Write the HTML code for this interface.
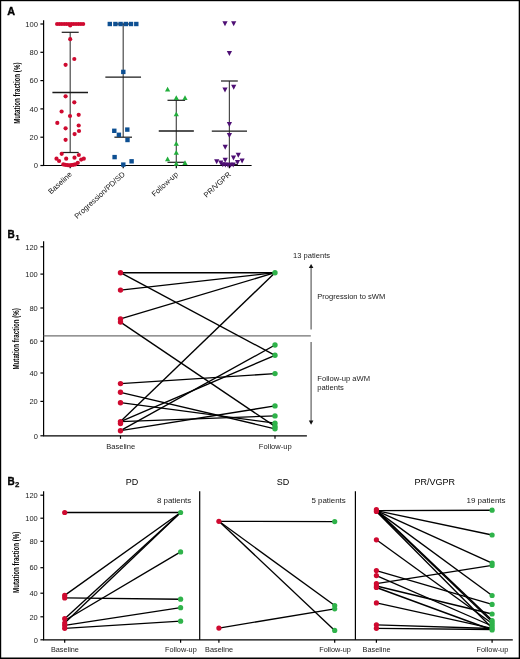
<!DOCTYPE html>
<html><head><meta charset="utf-8"><style>
html,body{margin:0;padding:0;background:#fff;}
body{width:520px;height:659px;overflow:hidden;position:relative;}
svg{position:absolute;left:0;top:0;display:block;will-change:transform;font-family:"Liberation Sans",sans-serif;}
</style></head><body>
<svg width="520" height="659" viewBox="0 0 520 659">
<rect x="0" y="0" width="520" height="659" fill="#fff"/>
<text x="7.3" y="15.2" font-size="10.8" font-weight="bold" fill="#000" stroke="#000" stroke-width="0.35">A</text>
<line x1="43.6" y1="20.2" x2="43.6" y2="165.5" stroke="#000" stroke-width="1.2"/>
<line x1="43" y1="165.5" x2="251.6" y2="165.5" stroke="#000" stroke-width="1.2"/>
<line x1="40.4" y1="165.5" x2="43.6" y2="165.5" stroke="#000" stroke-width="1.2"/>
<text x="37.9" y="168.2" font-size="7.6" text-anchor="end" font-weight="normal" fill="#1a1a1a" >0</text>
<line x1="40.4" y1="137.2" x2="43.6" y2="137.2" stroke="#000" stroke-width="1.2"/>
<text x="37.9" y="139.9" font-size="7.6" text-anchor="end" font-weight="normal" fill="#1a1a1a" >20</text>
<line x1="40.4" y1="108.9" x2="43.6" y2="108.9" stroke="#000" stroke-width="1.2"/>
<text x="37.9" y="111.6" font-size="7.6" text-anchor="end" font-weight="normal" fill="#1a1a1a" >40</text>
<line x1="40.4" y1="80.6" x2="43.6" y2="80.6" stroke="#000" stroke-width="1.2"/>
<text x="37.9" y="83.3" font-size="7.6" text-anchor="end" font-weight="normal" fill="#1a1a1a" >60</text>
<line x1="40.4" y1="52.3" x2="43.6" y2="52.3" stroke="#000" stroke-width="1.2"/>
<text x="37.9" y="55" font-size="7.6" text-anchor="end" font-weight="normal" fill="#1a1a1a" >80</text>
<line x1="40.4" y1="24" x2="43.6" y2="24" stroke="#000" stroke-width="1.2"/>
<text x="37.9" y="26.7" font-size="7.6" text-anchor="end" font-weight="normal" fill="#1a1a1a" >100</text>
<line x1="70.2" y1="165.5" x2="70.2" y2="168.2" stroke="#000" stroke-width="1.2"/>
<line x1="123.2" y1="165.5" x2="123.2" y2="168.2" stroke="#000" stroke-width="1.2"/>
<line x1="176.3" y1="165.5" x2="176.3" y2="168.2" stroke="#000" stroke-width="1.2"/>
<line x1="229.4" y1="165.5" x2="229.4" y2="168.2" stroke="#000" stroke-width="1.2"/>
<text transform="translate(19.6,93.2) rotate(-90) scale(0.67,1)" font-size="9.2" font-weight="bold" text-anchor="middle" fill="#000">Mutation fraction (%)</text>
<text transform="translate(72.4,175) rotate(-42.5)" font-size="7.55" text-anchor="end" fill="#111">Baseline</text>
<text transform="translate(125.4,175) rotate(-42.5)" font-size="7.55" text-anchor="end" fill="#111">Progression/PD/SD</text>
<text transform="translate(178.5,175) rotate(-42.5)" font-size="7.55" text-anchor="end" fill="#111">Follow-up</text>
<text transform="translate(231.6,175) rotate(-42.5)" font-size="7.55" text-anchor="end" fill="#111">PR/VGPR</text>
<line x1="70.2" y1="32.3" x2="70.2" y2="152.5" stroke="#4a4a4a" stroke-width="1.2"/>
<line x1="61.7" y1="32.3" x2="78.7" y2="32.3" stroke="#222" stroke-width="1.25"/>
<line x1="61.7" y1="152.5" x2="78.7" y2="152.5" stroke="#222" stroke-width="1.25"/>
<line x1="52.4" y1="92.5" x2="88" y2="92.5" stroke="#1a1a1a" stroke-width="1.3"/>
<line x1="123.2" y1="24" x2="123.2" y2="137.2" stroke="#4a4a4a" stroke-width="1.2"/>
<line x1="114.4" y1="24" x2="132" y2="24" stroke="#222" stroke-width="1.25"/>
<line x1="114.4" y1="137.2" x2="132" y2="137.2" stroke="#222" stroke-width="1.25"/>
<line x1="105.35" y1="77.2" x2="141.05" y2="77.2" stroke="#1a1a1a" stroke-width="1.3"/>
<line x1="176.3" y1="100.3" x2="176.3" y2="162.3" stroke="#4a4a4a" stroke-width="1.2"/>
<line x1="167.5" y1="100.3" x2="185.1" y2="100.3" stroke="#222" stroke-width="1.25"/>
<line x1="167.5" y1="162.3" x2="185.1" y2="162.3" stroke="#222" stroke-width="1.25"/>
<line x1="158.75" y1="131" x2="193.85" y2="131" stroke="#1a1a1a" stroke-width="1.3"/>
<line x1="229.4" y1="81" x2="229.4" y2="164.5" stroke="#4a4a4a" stroke-width="1.2"/>
<line x1="221" y1="81" x2="237.8" y2="81" stroke="#222" stroke-width="1.25"/>
<line x1="221" y1="164.5" x2="237.8" y2="164.5" stroke="#222" stroke-width="1.25"/>
<line x1="211.8" y1="131.2" x2="247" y2="131.2" stroke="#1a1a1a" stroke-width="1.3"/>
<circle cx="70.2" cy="39.2" r="2.1" fill="#cf0a30"/>
<circle cx="74.3" cy="59" r="2.1" fill="#cf0a30"/>
<circle cx="65.6" cy="64.8" r="2.1" fill="#cf0a30"/>
<circle cx="65.6" cy="96.3" r="2.1" fill="#cf0a30"/>
<circle cx="74.3" cy="102.3" r="2.1" fill="#cf0a30"/>
<circle cx="61.6" cy="111.5" r="2.1" fill="#cf0a30"/>
<circle cx="70" cy="116" r="2.1" fill="#cf0a30"/>
<circle cx="78.7" cy="114.8" r="2.1" fill="#cf0a30"/>
<circle cx="57.3" cy="122.9" r="2.1" fill="#cf0a30"/>
<circle cx="65.6" cy="128.3" r="2.1" fill="#cf0a30"/>
<circle cx="78.7" cy="125.5" r="2.1" fill="#cf0a30"/>
<circle cx="79" cy="131" r="2.1" fill="#cf0a30"/>
<circle cx="74.6" cy="134.1" r="2.1" fill="#cf0a30"/>
<circle cx="65.6" cy="139.8" r="2.1" fill="#cf0a30"/>
<circle cx="61.7" cy="153.8" r="2.1" fill="#cf0a30"/>
<circle cx="78.8" cy="155" r="2.1" fill="#cf0a30"/>
<circle cx="56.5" cy="158.7" r="2.1" fill="#cf0a30"/>
<circle cx="59.1" cy="161" r="2.1" fill="#cf0a30"/>
<circle cx="66.2" cy="158.7" r="2.1" fill="#cf0a30"/>
<circle cx="74.5" cy="157.7" r="2.1" fill="#cf0a30"/>
<circle cx="81.2" cy="159.6" r="2.1" fill="#cf0a30"/>
<circle cx="83.8" cy="158.7" r="2.1" fill="#cf0a30"/>
<circle cx="77.8" cy="162.8" r="2.1" fill="#cf0a30"/>
<circle cx="57.1" cy="24" r="2.1" fill="#cf0a30"/>
<circle cx="59.47" cy="24" r="2.1" fill="#cf0a30"/>
<circle cx="61.84" cy="24" r="2.1" fill="#cf0a30"/>
<circle cx="64.21" cy="24" r="2.1" fill="#cf0a30"/>
<circle cx="66.58" cy="24" r="2.1" fill="#cf0a30"/>
<circle cx="68.95" cy="24" r="2.1" fill="#cf0a30"/>
<circle cx="71.32" cy="24" r="2.1" fill="#cf0a30"/>
<circle cx="73.69" cy="24" r="2.1" fill="#cf0a30"/>
<circle cx="76.06" cy="24" r="2.1" fill="#cf0a30"/>
<circle cx="78.43" cy="24" r="2.1" fill="#cf0a30"/>
<circle cx="80.8" cy="24" r="2.1" fill="#cf0a30"/>
<circle cx="83.17" cy="24" r="2.1" fill="#cf0a30"/>
<circle cx="70.2" cy="25.4" r="2.1" fill="#cf0a30"/>
<circle cx="63.3" cy="164.4" r="2.1" fill="#cf0a30"/>
<circle cx="65.2" cy="164.8" r="2.1" fill="#cf0a30"/>
<circle cx="67.2" cy="165.1" r="2.1" fill="#cf0a30"/>
<circle cx="69.2" cy="165.3" r="2.1" fill="#cf0a30"/>
<circle cx="71.2" cy="165.1" r="2.1" fill="#cf0a30"/>
<circle cx="73.2" cy="164.8" r="2.1" fill="#cf0a30"/>
<circle cx="75.2" cy="164.4" r="2.1" fill="#cf0a30"/>
<rect x="107.6" y="21.8" width="4.4" height="4.4" fill="#0d4f92"/>
<rect x="113.2" y="21.8" width="4.4" height="4.4" fill="#0d4f92"/>
<rect x="118.4" y="21.8" width="4.4" height="4.4" fill="#0d4f92"/>
<rect x="123.6" y="21.8" width="4.4" height="4.4" fill="#0d4f92"/>
<rect x="128.8" y="21.8" width="4.4" height="4.4" fill="#0d4f92"/>
<rect x="134.1" y="21.8" width="4.4" height="4.4" fill="#0d4f92"/>
<rect x="121.1" y="69.7" width="4.4" height="4.4" fill="#0d4f92"/>
<rect x="112.1" y="128.6" width="4.4" height="4.4" fill="#0d4f92"/>
<rect x="125.1" y="127.4" width="4.4" height="4.4" fill="#0d4f92"/>
<rect x="116.7" y="132.6" width="4.4" height="4.4" fill="#0d4f92"/>
<rect x="125.3" y="137.8" width="4.4" height="4.4" fill="#0d4f92"/>
<rect x="112.4" y="154.9" width="4.4" height="4.4" fill="#0d4f92"/>
<rect x="129.4" y="159.1" width="4.4" height="4.4" fill="#0d4f92"/>
<rect x="121.1" y="162.4" width="4.4" height="4.4" fill="#0d4f92"/>
<path d="M167.6 86.7L170.2 91.5L165 91.5Z" fill="#22ae3c"/>
<path d="M176.3 95.3L178.9 100.1L173.7 100.1Z" fill="#22ae3c"/>
<path d="M185 95.3L187.6 100.1L182.4 100.1Z" fill="#22ae3c"/>
<path d="M176.3 111.5L178.9 116.3L173.7 116.3Z" fill="#22ae3c"/>
<path d="M176.3 140.9L178.9 145.7L173.7 145.7Z" fill="#22ae3c"/>
<path d="M176.3 149.9L178.9 154.7L173.7 154.7Z" fill="#22ae3c"/>
<path d="M167.6 156.5L170.2 161.3L165 161.3Z" fill="#22ae3c"/>
<path d="M176.3 160.9L178.9 165.7L173.7 165.7Z" fill="#22ae3c"/>
<path d="M185 160.3L187.6 165.1L182.4 165.1Z" fill="#22ae3c"/>
<path d="M222.4 21.3L227.6 21.3L225 26.3Z" fill="#4e0f74"/>
<path d="M231.1 21.3L236.3 21.3L233.7 26.3Z" fill="#4e0f74"/>
<path d="M226.8 51L232 51L229.4 56Z" fill="#4e0f74"/>
<path d="M222.4 87.4L227.6 87.4L225 92.4Z" fill="#4e0f74"/>
<path d="M231.1 84.7L236.3 84.7L233.7 89.7Z" fill="#4e0f74"/>
<path d="M226.8 122L232 122L229.4 127Z" fill="#4e0f74"/>
<path d="M226.8 133L232 133L229.4 138Z" fill="#4e0f74"/>
<path d="M222.6 144.8L227.8 144.8L225.2 149.8Z" fill="#4e0f74"/>
<path d="M235.7 152.8L240.9 152.8L238.3 157.8Z" fill="#4e0f74"/>
<path d="M230.9 155.5L236.1 155.5L233.5 160.5Z" fill="#4e0f74"/>
<path d="M222.6 157.8L227.8 157.8L225.2 162.8Z" fill="#4e0f74"/>
<path d="M214.1 159.3L219.3 159.3L216.7 164.3Z" fill="#4e0f74"/>
<path d="M239.5 158.6L244.7 158.6L242.1 163.6Z" fill="#4e0f74"/>
<path d="M218.2 160.6L223.4 160.6L220.8 165.6Z" fill="#4e0f74"/>
<path d="M234.9 160.1L240.1 160.1L237.5 165.1Z" fill="#4e0f74"/>
<path d="M220.2 162.2L225.4 162.2L222.8 167.2Z" fill="#4e0f74"/>
<path d="M222.8 162.6L228 162.6L225.4 167.6Z" fill="#4e0f74"/>
<path d="M225.4 162.8L230.6 162.8L228 167.8Z" fill="#4e0f74"/>
<path d="M228 162.8L233.2 162.8L230.6 167.8Z" fill="#4e0f74"/>
<path d="M230.6 162.4L235.8 162.4L233.2 167.4Z" fill="#4e0f74"/>
<text x="7.5" y="237.9" font-size="10" font-weight="bold" fill="#000" stroke="#000" stroke-width="0.35">B</text>
<text x="15.6" y="240" font-size="7.2" font-weight="bold" fill="#000" stroke="#000" stroke-width="0.25">1</text>
<line x1="43.6" y1="241.2" x2="43.6" y2="435.8" stroke="#000" stroke-width="1.2"/>
<line x1="43" y1="435.8" x2="306.9" y2="435.8" stroke="#000" stroke-width="1.2"/>
<line x1="40.4" y1="435.8" x2="43.6" y2="435.8" stroke="#000" stroke-width="1.2"/>
<text x="37.8" y="438.5" font-size="7.5" text-anchor="end" font-weight="normal" fill="#1a1a1a" >0</text>
<line x1="40.4" y1="401.4" x2="43.6" y2="401.4" stroke="#000" stroke-width="1.2"/>
<text x="37.8" y="404.1" font-size="7.5" text-anchor="end" font-weight="normal" fill="#1a1a1a" >20</text>
<line x1="40.4" y1="373" x2="43.6" y2="373" stroke="#000" stroke-width="1.2"/>
<text x="37.8" y="375.7" font-size="7.5" text-anchor="end" font-weight="normal" fill="#1a1a1a" >40</text>
<line x1="40.4" y1="341.2" x2="43.6" y2="341.2" stroke="#000" stroke-width="1.2"/>
<text x="37.8" y="343.9" font-size="7.5" text-anchor="end" font-weight="normal" fill="#1a1a1a" >60</text>
<line x1="40.4" y1="308" x2="43.6" y2="308" stroke="#000" stroke-width="1.2"/>
<text x="37.8" y="310.7" font-size="7.5" text-anchor="end" font-weight="normal" fill="#1a1a1a" >80</text>
<line x1="40.4" y1="274.1" x2="43.6" y2="274.1" stroke="#000" stroke-width="1.2"/>
<text x="37.8" y="276.8" font-size="7.5" text-anchor="end" font-weight="normal" fill="#1a1a1a" >100</text>
<line x1="40.4" y1="246.8" x2="43.6" y2="246.8" stroke="#000" stroke-width="1.2"/>
<text x="37.8" y="249.5" font-size="7.5" text-anchor="end" font-weight="normal" fill="#1a1a1a" >120</text>
<line x1="120.5" y1="435.8" x2="120.5" y2="438.8" stroke="#000" stroke-width="1.2"/>
<line x1="275" y1="435.8" x2="275" y2="438.8" stroke="#000" stroke-width="1.2"/>
<text transform="translate(19.4,338.9) rotate(-90) scale(0.67,1)" font-size="9.2" font-weight="bold" text-anchor="middle" fill="#000">Mutation fraction (%)</text>
<line x1="43.6" y1="335.8" x2="310.8" y2="335.8" stroke="#707070" stroke-width="1.3"/>
<line x1="311.1" y1="329.4" x2="311.1" y2="267.5" stroke="#6a6a6a" stroke-width="1.3"/>
<path d="M311.1 263.9L313.4 268.1L308.8 268.1Z" fill="#111"/>
<line x1="311.1" y1="341.9" x2="311.1" y2="421.5" stroke="#6a6a6a" stroke-width="1.3"/>
<path d="M311.1 424.8L313.4 420.6L308.8 420.6Z" fill="#111"/>
<text x="293.1" y="258.4" font-size="7.55" text-anchor="start" font-weight="normal" fill="#1a1a1a" >13 patients</text>
<text x="317.3" y="299.2" font-size="7.55" text-anchor="start" font-weight="normal" fill="#1a1a1a" >Progression to sWM</text>
<text x="317.3" y="381" font-size="7.6" text-anchor="start" font-weight="normal" fill="#1a1a1a" >Follow-up aWM</text>
<text x="317.3" y="390.2" font-size="7.6" text-anchor="start" font-weight="normal" fill="#1a1a1a" >patients</text>
<text x="120.7" y="448.6" font-size="7.55" text-anchor="middle" font-weight="normal" fill="#1a1a1a" >Baseline</text>
<text x="275.3" y="448.8" font-size="7.6" text-anchor="middle" font-weight="normal" fill="#1a1a1a" >Follow-up</text>
<line x1="120.5" y1="272.7" x2="275" y2="272.7" stroke="#000" stroke-width="1.35"/>
<line x1="120.5" y1="272.7" x2="275" y2="355.3" stroke="#000" stroke-width="1.35"/>
<line x1="120.5" y1="290.1" x2="275" y2="272.7" stroke="#000" stroke-width="1.35"/>
<line x1="120.5" y1="318.9" x2="275" y2="272.7" stroke="#000" stroke-width="1.35"/>
<line x1="120.5" y1="322.1" x2="275" y2="426.4" stroke="#000" stroke-width="1.35"/>
<line x1="120.5" y1="383.6" x2="275" y2="373.6" stroke="#000" stroke-width="1.35"/>
<line x1="120.5" y1="392.3" x2="275" y2="428.8" stroke="#000" stroke-width="1.35"/>
<line x1="120.5" y1="402.7" x2="275" y2="423.2" stroke="#000" stroke-width="1.35"/>
<line x1="120.5" y1="421.6" x2="275" y2="272.7" stroke="#000" stroke-width="1.35"/>
<line x1="120.5" y1="421.6" x2="275" y2="355.3" stroke="#000" stroke-width="1.35"/>
<line x1="120.5" y1="421.6" x2="275" y2="415.9" stroke="#000" stroke-width="1.35"/>
<line x1="120.5" y1="430.7" x2="275" y2="345" stroke="#000" stroke-width="1.35"/>
<line x1="120.5" y1="430.7" x2="275" y2="405.9" stroke="#000" stroke-width="1.35"/>
<circle cx="120.5" cy="272.7" r="2.7" fill="#cf0a30"/>
<circle cx="120.5" cy="290.1" r="2.7" fill="#cf0a30"/>
<circle cx="120.5" cy="318.9" r="2.7" fill="#cf0a30"/>
<circle cx="120.5" cy="322.1" r="2.7" fill="#cf0a30"/>
<circle cx="120.5" cy="383.6" r="2.7" fill="#cf0a30"/>
<circle cx="120.5" cy="392.3" r="2.7" fill="#cf0a30"/>
<circle cx="120.5" cy="402.7" r="2.7" fill="#cf0a30"/>
<circle cx="120.5" cy="421.6" r="2.7" fill="#cf0a30"/>
<circle cx="120.5" cy="423.6" r="2.7" fill="#cf0a30"/>
<circle cx="120.5" cy="430.7" r="2.7" fill="#cf0a30"/>
<circle cx="275" cy="272.7" r="2.7" fill="#2fb34a"/>
<circle cx="275" cy="345" r="2.7" fill="#2fb34a"/>
<circle cx="275" cy="355.3" r="2.7" fill="#2fb34a"/>
<circle cx="275" cy="373.6" r="2.7" fill="#2fb34a"/>
<circle cx="275" cy="405.9" r="2.7" fill="#2fb34a"/>
<circle cx="275" cy="415.9" r="2.7" fill="#2fb34a"/>
<circle cx="275" cy="423.2" r="2.7" fill="#2fb34a"/>
<circle cx="275" cy="426.4" r="2.7" fill="#2fb34a"/>
<circle cx="275" cy="428.8" r="2.7" fill="#2fb34a"/>
<text x="7.5" y="485" font-size="10" font-weight="bold" fill="#000" stroke="#000" stroke-width="0.35">B</text>
<text x="15" y="486.7" font-size="7.8" font-weight="bold" fill="#000" stroke="#000" stroke-width="0.25">2</text>
<line x1="43.6" y1="491.3" x2="43.6" y2="639.8" stroke="#000" stroke-width="1.2"/>
<line x1="43" y1="639.8" x2="512.8" y2="639.8" stroke="#000" stroke-width="1.2"/>
<line x1="40.4" y1="639.8" x2="43.6" y2="639.8" stroke="#000" stroke-width="1.2"/>
<text x="37.8" y="642.5" font-size="7.5" text-anchor="end" font-weight="normal" fill="#1a1a1a" >0</text>
<line x1="40.4" y1="616.8" x2="43.6" y2="616.8" stroke="#000" stroke-width="1.2"/>
<text x="37.8" y="619.5" font-size="7.5" text-anchor="end" font-weight="normal" fill="#1a1a1a" >20</text>
<line x1="40.4" y1="593.2" x2="43.6" y2="593.2" stroke="#000" stroke-width="1.2"/>
<text x="37.8" y="595.9" font-size="7.5" text-anchor="end" font-weight="normal" fill="#1a1a1a" >40</text>
<line x1="40.4" y1="567.7" x2="43.6" y2="567.7" stroke="#000" stroke-width="1.2"/>
<text x="37.8" y="570.4" font-size="7.5" text-anchor="end" font-weight="normal" fill="#1a1a1a" >60</text>
<line x1="40.4" y1="541.3" x2="43.6" y2="541.3" stroke="#000" stroke-width="1.2"/>
<text x="37.8" y="544" font-size="7.5" text-anchor="end" font-weight="normal" fill="#1a1a1a" >80</text>
<line x1="40.4" y1="518.2" x2="43.6" y2="518.2" stroke="#000" stroke-width="1.2"/>
<text x="37.8" y="520.9" font-size="7.5" text-anchor="end" font-weight="normal" fill="#1a1a1a" >100</text>
<line x1="40.4" y1="495.2" x2="43.6" y2="495.2" stroke="#000" stroke-width="1.2"/>
<text x="37.8" y="497.9" font-size="7.5" text-anchor="end" font-weight="normal" fill="#1a1a1a" >120</text>
<line x1="199.7" y1="491.2" x2="199.7" y2="639.8" stroke="#000" stroke-width="1.2"/>
<line x1="355.4" y1="491.2" x2="355.4" y2="639.8" stroke="#000" stroke-width="1.2"/>
<text transform="translate(19.1,562.3) rotate(-90) scale(0.67,1)" font-size="9.2" font-weight="bold" text-anchor="middle" fill="#000">Mutation fraction (%)</text>
<text x="132" y="484.9" font-size="9.0" text-anchor="middle" font-weight="normal" fill="#000" >PD</text>
<text x="283" y="484.9" font-size="9.0" text-anchor="middle" font-weight="normal" fill="#000" >SD</text>
<text x="434.8" y="484.8" font-size="9.0" text-anchor="middle" font-weight="normal" fill="#000" >PR/VGPR</text>
<text x="191.3" y="502.5" font-size="7.95" text-anchor="end" font-weight="normal" fill="#1a1a1a" >8 patients</text>
<text x="345.8" y="502.8" font-size="7.95" text-anchor="end" font-weight="normal" fill="#1a1a1a" >5 patients</text>
<text x="505.6" y="502.5" font-size="8.0" text-anchor="end" font-weight="normal" fill="#1a1a1a" >19 patients</text>
<line x1="64.7" y1="639.8" x2="64.7" y2="642.8" stroke="#000" stroke-width="1.2"/>
<line x1="180.6" y1="639.8" x2="180.6" y2="642.8" stroke="#000" stroke-width="1.2"/>
<text x="64.9" y="651.7" font-size="7.3" text-anchor="middle" font-weight="normal" fill="#1a1a1a" >Baseline</text>
<text x="180.9" y="651.9" font-size="7.3" text-anchor="middle" font-weight="normal" fill="#1a1a1a" >Follow-up</text>
<line x1="218.9" y1="639.8" x2="218.9" y2="642.8" stroke="#000" stroke-width="1.2"/>
<line x1="334.7" y1="639.8" x2="334.7" y2="642.8" stroke="#000" stroke-width="1.2"/>
<text x="219.1" y="651.7" font-size="7.3" text-anchor="middle" font-weight="normal" fill="#1a1a1a" >Baseline</text>
<text x="335" y="651.9" font-size="7.3" text-anchor="middle" font-weight="normal" fill="#1a1a1a" >Follow-up</text>
<line x1="376.4" y1="639.8" x2="376.4" y2="642.8" stroke="#000" stroke-width="1.2"/>
<line x1="492.1" y1="639.8" x2="492.1" y2="642.8" stroke="#000" stroke-width="1.2"/>
<text x="376.6" y="651.7" font-size="7.3" text-anchor="middle" font-weight="normal" fill="#1a1a1a" >Baseline</text>
<text x="492.4" y="651.9" font-size="7.3" text-anchor="middle" font-weight="normal" fill="#1a1a1a" >Follow-up</text>
<line x1="64.7" y1="512.5" x2="180.6" y2="512.5" stroke="#000" stroke-width="1.35"/>
<line x1="64.7" y1="595.4" x2="180.6" y2="512.5" stroke="#000" stroke-width="1.35"/>
<line x1="64.7" y1="597.9" x2="180.6" y2="599.2" stroke="#000" stroke-width="1.35"/>
<line x1="64.7" y1="618.7" x2="180.6" y2="512.5" stroke="#000" stroke-width="1.35"/>
<line x1="64.7" y1="623.1" x2="180.6" y2="512.5" stroke="#000" stroke-width="1.35"/>
<line x1="64.7" y1="620.5" x2="180.6" y2="551.9" stroke="#000" stroke-width="1.35"/>
<line x1="64.7" y1="625.4" x2="180.6" y2="607.7" stroke="#000" stroke-width="1.35"/>
<line x1="64.7" y1="628.3" x2="180.6" y2="621.2" stroke="#000" stroke-width="1.35"/>
<circle cx="64.7" cy="512.5" r="2.6" fill="#cf0a30"/>
<circle cx="64.7" cy="595.4" r="2.6" fill="#cf0a30"/>
<circle cx="64.7" cy="597.9" r="2.6" fill="#cf0a30"/>
<circle cx="64.7" cy="618.7" r="2.6" fill="#cf0a30"/>
<circle cx="64.7" cy="623.1" r="2.6" fill="#cf0a30"/>
<circle cx="64.7" cy="625.4" r="2.6" fill="#cf0a30"/>
<circle cx="64.7" cy="628.3" r="2.6" fill="#cf0a30"/>
<circle cx="180.6" cy="512.5" r="2.6" fill="#2fb34a"/>
<circle cx="180.6" cy="551.9" r="2.6" fill="#2fb34a"/>
<circle cx="180.6" cy="599.2" r="2.6" fill="#2fb34a"/>
<circle cx="180.6" cy="607.7" r="2.6" fill="#2fb34a"/>
<circle cx="180.6" cy="621.2" r="2.6" fill="#2fb34a"/>
<line x1="218.9" y1="521.3" x2="334.7" y2="521.6" stroke="#000" stroke-width="1.35"/>
<line x1="218.9" y1="521.3" x2="334.7" y2="605.5" stroke="#000" stroke-width="1.35"/>
<line x1="218.9" y1="521.3" x2="334.7" y2="630.4" stroke="#000" stroke-width="1.35"/>
<line x1="218.9" y1="628.1" x2="334.7" y2="608.8" stroke="#000" stroke-width="1.35"/>
<circle cx="218.9" cy="521.3" r="2.6" fill="#cf0a30"/>
<circle cx="218.9" cy="628.1" r="2.6" fill="#cf0a30"/>
<circle cx="334.7" cy="521.6" r="2.6" fill="#2fb34a"/>
<circle cx="334.7" cy="605.5" r="2.6" fill="#2fb34a"/>
<circle cx="334.7" cy="608.8" r="2.6" fill="#2fb34a"/>
<circle cx="334.7" cy="630.4" r="2.6" fill="#2fb34a"/>
<line x1="376.4" y1="510.6" x2="492.1" y2="510.2" stroke="#000" stroke-width="1.35"/>
<line x1="376.4" y1="510.6" x2="492.1" y2="535" stroke="#000" stroke-width="1.35"/>
<line x1="376.4" y1="510.6" x2="492.1" y2="563.1" stroke="#000" stroke-width="1.35"/>
<line x1="376.4" y1="510.6" x2="492.1" y2="595.5" stroke="#000" stroke-width="1.35"/>
<line x1="376.4" y1="509.9" x2="492.1" y2="620.2" stroke="#000" stroke-width="1.35"/>
<line x1="376.4" y1="510.7" x2="492.1" y2="621.8" stroke="#000" stroke-width="1.35"/>
<line x1="376.4" y1="511.6" x2="492.1" y2="628" stroke="#000" stroke-width="1.35"/>
<line x1="376.4" y1="539.8" x2="492.1" y2="623.5" stroke="#000" stroke-width="1.35"/>
<line x1="376.4" y1="570.6" x2="492.1" y2="604.4" stroke="#000" stroke-width="1.35"/>
<line x1="376.4" y1="575.6" x2="492.1" y2="626" stroke="#000" stroke-width="1.35"/>
<line x1="376.4" y1="583.7" x2="492.1" y2="565.4" stroke="#000" stroke-width="1.35"/>
<line x1="376.4" y1="586" x2="492.1" y2="614" stroke="#000" stroke-width="1.35"/>
<line x1="376.4" y1="587.5" x2="492.1" y2="630" stroke="#000" stroke-width="1.35"/>
<line x1="376.4" y1="602.9" x2="492.1" y2="628.4" stroke="#000" stroke-width="1.35"/>
<line x1="376.4" y1="624.8" x2="492.1" y2="628.5" stroke="#000" stroke-width="1.35"/>
<line x1="376.4" y1="628.3" x2="492.1" y2="629.5" stroke="#000" stroke-width="1.35"/>
<circle cx="376.4" cy="509.7" r="2.6" fill="#cf0a30"/>
<circle cx="376.4" cy="511.5" r="2.6" fill="#cf0a30"/>
<circle cx="376.4" cy="539.8" r="2.6" fill="#cf0a30"/>
<circle cx="376.4" cy="570.6" r="2.6" fill="#cf0a30"/>
<circle cx="376.4" cy="575.6" r="2.6" fill="#cf0a30"/>
<circle cx="376.4" cy="583.7" r="2.6" fill="#cf0a30"/>
<circle cx="376.4" cy="586" r="2.6" fill="#cf0a30"/>
<circle cx="376.4" cy="587.5" r="2.6" fill="#cf0a30"/>
<circle cx="376.4" cy="602.9" r="2.6" fill="#cf0a30"/>
<circle cx="376.4" cy="624.8" r="2.6" fill="#cf0a30"/>
<circle cx="376.4" cy="628.3" r="2.6" fill="#cf0a30"/>
<circle cx="492.1" cy="510.2" r="2.6" fill="#2fb34a"/>
<circle cx="492.1" cy="535" r="2.6" fill="#2fb34a"/>
<circle cx="492.1" cy="563.1" r="2.6" fill="#2fb34a"/>
<circle cx="492.1" cy="565.4" r="2.6" fill="#2fb34a"/>
<circle cx="492.1" cy="595.5" r="2.6" fill="#2fb34a"/>
<circle cx="492.1" cy="604.4" r="2.6" fill="#2fb34a"/>
<circle cx="492.1" cy="614" r="2.6" fill="#2fb34a"/>
<circle cx="492.1" cy="620.5" r="2.6" fill="#2fb34a"/>
<circle cx="492.1" cy="622.5" r="2.6" fill="#2fb34a"/>
<circle cx="492.1" cy="624.5" r="2.6" fill="#2fb34a"/>
<circle cx="492.1" cy="626.5" r="2.6" fill="#2fb34a"/>
<circle cx="492.1" cy="628.5" r="2.6" fill="#2fb34a"/>
<circle cx="492.1" cy="630" r="2.6" fill="#2fb34a"/>
<rect x="0" y="0" width="1.2" height="659" fill="#000"/>
<rect x="0" y="0" width="520" height="1.2" fill="#000"/>
<rect x="518.7" y="0" width="1.3" height="659" fill="#000"/>
<rect x="0" y="657.5" width="520" height="1.5" fill="#000"/>
</svg>
</body></html>
